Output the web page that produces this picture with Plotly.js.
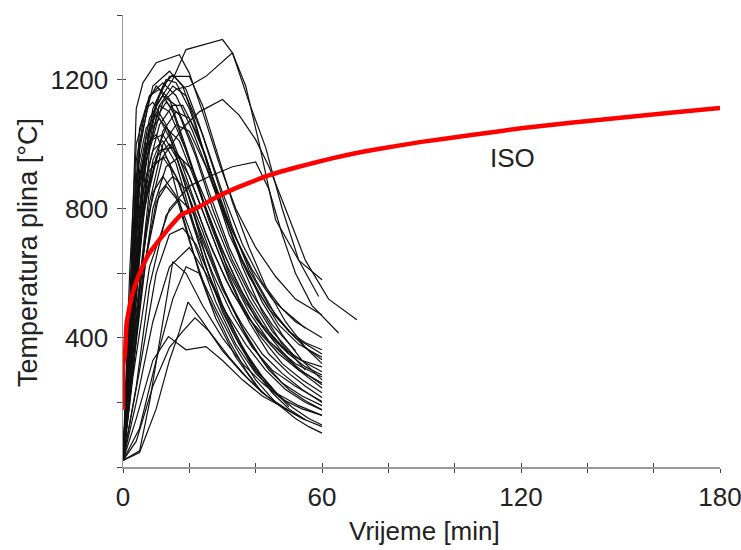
<!DOCTYPE html>
<html>
<head>
<meta charset="utf-8">
<script src="https://cdn.plot.ly/plotly-3.0.1.min.js"></script>
<style>html,body{margin:0;padding:0;background:#fff;}#chart{width:741px;height:550px;}</style>
</head>
<body>
<div id="chart"></div>
<script>
// ---- Data (time in min, temperature in °C) ----
// Natural fire curves, each as [time, temperature] pairs
const lateHighCurves = [
  [[0,20],[3,420],[6,880],[10,1120],[15,1200],[19,1293],[30,1324],[33,1283],[37,1180],[41,1005],[46,766],[53,640],[60,580]],
  [[0,20],[4,560],[8,980],[12,1130],[16,1170],[20,1180],[25,1210],[33,1283],[38,1130],[43,990],[48,800],[53,640],[59,528]],
  [[0,20],[3,350],[7,750],[12,960],[18,1050],[23,1100],[30,1138],[35,1090],[40,1014],[44,931],[49,800],[55,640],[62,520],[70.5,456]],
  [[0,20],[3,280],[8,620],[14,800],[20,870],[26,900],[33,930],[40,945],[44,860],[48,720],[52,600],[57,500],[65,415]]
];
const highCurves = [
  [[0,20],[2,480],[4,1110],[6,1190],[10,1252],[17,1277],[20,1220],[24,1100],[29,940],[34,800],[40,680],[46,590],[52,520],[60,471]],
  [[0,20],[3,650],[5,1000],[9,1180],[14,1226],[18,1180],[22,1060],[27,880],[32,720],[38,590],[44,490],[50,420],[55,385],[60,363]],
  [[0,20],[2,320],[5,860],[9,1110],[13,1200],[16,1190],[20,1110],[25,960],[30,800],[35,660],[41,540],[47,440],[53,380],[60,340]],
  [[0,20],[4,720],[8,1060],[12,1180],[15,1215],[19,1170],[23,1060],[28,900],[33,740],[38,610],[44,500],[50,420],[55,370],[60,332]],
  [[0,20],[3,520],[6,920],[10,1130],[14,1210],[20,1210],[24,1120],[28,990],[33,820],[38,680],[43,560],[49,450],[55,370],[60,320]],
  [[0,20],[2,400],[5,980],[8,1150],[12,1190],[16,1150],[21,1040],[27,880],[33,730],[39,610],[45,520],[52,450],[60,400]],
  [[0,20],[4,600],[7,950],[11,1120],[15,1180],[19,1150],[24,1030],[30,850],[36,690],[42,570],[48,490],[55,430]],
  [[0,20],[3,700],[5,1050],[8,1150],[11,1170],[15,1100],[20,950],[26,760],[32,600],[38,480],[44,390],[50,330],[55,290],[60,255]],
  [[0,20],[3,450],[7,900],[11,1060],[15,1120],[18,1120],[22,1040],[27,900],[33,730],[40,580],[46,470],[52,400],[60,350]],
  [[0,20],[2,380],[5,920],[8,1080],[12,1150],[16,1120],[21,1000],[26,850],[32,680],[38,550],[45,440],[52,360]]
];
const midCurves = [
  [[0,20],[2,350],[4,800],[7,1020],[11,1120],[14,1100],[19,980],[24,830],[30,670],[36,540],[42,440],[48,370],[54,330],[60,310]],
  [[0,20],[3,500],[6,900],[10,1080],[13,1130],[17,1090],[22,960],[27,800],[33,640],[39,520],[45,420],[52,340],[60,295]],
  [[0,20],[2,450],[4,900],[7,1050],[10,1090],[14,1040],[19,900],[25,720],[31,580],[37,470],[44,390],[52,320],[60,279]],
  [[0,20],[4,450],[8,820],[12,1000],[16,1060],[20,1040],[25,930],[30,790],[36,640],[42,510],[48,410],[54,330],[60,270]],
  [[0,20],[3,600],[5,900],[8,1010],[12,1030],[16,960],[21,830],[27,670],[33,540],[40,430],[47,350],[53,300],[60,260]],
  [[0,20],[2,250],[5,700],[9,950],[13,1050],[17,1010],[22,880],[28,720],[34,580],[40,460],[47,370],[53,300],[60,245]],
  [[0,20],[3,380],[6,780],[10,960],[14,1000],[18,950],[23,820],[29,660],[35,520],[41,410],[48,320],[54,270],[60,230]],
  [[0,20],[4,550],[7,850],[11,980],[15,990],[20,900],[26,740],[32,580],[38,450],[44,350],[50,290],[55,250],[60,215]],
  [[0,20],[2,300],[5,750],[8,920],[12,960],[16,900],[21,760],[27,600],[33,470],[39,370],[45,300],[52,250],[60,203]],
  [[0,20],[3,500],[6,850],[9,980],[12,1010],[16,940],[20,800],[25,620],[30,480],[35,380],[40,300],[45,245]],
  [[0,20],[2,400],[5,880],[8,1040],[11,1080],[15,1000],[20,830],[25,650],[30,500],[36,370],[42,280],[47,220],[50,186]],
  [[0,20],[3,420],[6,800],[9,940],[13,960],[17,880],[22,720],[27,560],[33,420],[39,310],[45,230],[50,180],[55,146]],
  [[0,20],[4,480],[8,860],[12,1040],[16,1100],[20,1080],[25,960],[30,800],[36,620],[42,480],[48,380],[55,300]],
  [[0,20],[2,500],[4,950],[7,1120],[10,1180],[14,1140],[19,990],[25,800],[31,630],[37,510],[43,420],[50,350]],
  [[0,20],[2,600],[4,1000],[7,1110],[9,1130],[13,1060],[18,900],[24,700],[30,550],[36,440],[42,350],[48,290],[54,240],[60,200]],
  [[0,20],[5,500],[9,800],[13,930],[17,960],[21,920],[26,800],[32,650],[38,520],[44,420],[50,350],[55,310],[60,285]]
];
const lowerCurves = [
  [[0,20],[3,300],[7,650],[11,850],[15,900],[19,860],[24,730],[30,560],[36,430],[42,330],[48,260],[54,220],[60,190]],
  [[0,20],[4,250],[8,560],[13,780],[17,830],[21,790],[26,660],[32,510],[38,390],[44,300],[50,240],[55,205],[60,177]],
  [[0,20],[2,200],[6,600],[10,820],[13,870],[17,820],[22,680],[28,510],[34,380],[40,290],[46,230],[53,190],[60,160]],
  [[0,20],[5,300],[10,600],[14,720],[18,740],[22,690],[27,570],[33,430],[39,320],[45,240],[51,185],[56,150],[60,130]],
  [[0,20],[5,120],[10,330],[15,520],[19,620],[23,600],[28,490],[34,370],[40,270],[46,200],[52,150],[56,125],[60,105]],
  [[0,20],[2,450],[4,850],[7,1000],[10,1030],[14,940],[18,780],[23,600],[28,460],[34,340],[40,254]],
  [[0,20],[3,300],[6,650],[9,850],[12,900],[16,840],[20,700],[26,520],[32,390],[37,300],[42,230]]
];
const lowPeakCurves = [
  [[0,20],[5,50],[8,200],[12,450],[15,636],[19,600],[24,500],[30,400],[36,320],[42,260],[48,210],[54,180],[60,160]],
  [[0,20],[5,45],[10,180],[14,330],[17,420],[19.6,511],[24,450],[30,360],[36,290],[42,230],[48,185],[54,150],[60,125]],
  [[0,20],[4,80],[9,250],[14,370],[18,420],[21.7,462],[26,420],[32,340],[38,270],[44,215],[50,175],[55,146]],
  [[0,20],[4,150],[9,330],[13.7,404],[19,363],[25,373],[30,330],[36,270],[42,220],[48,185],[50,175]],
  [[0,20],[4,200],[9,450],[14,620],[20,680],[25,600],[31,480],[37,380],[43,300],[49,240],[55,200],[60,177]]
];
// ISO standard fire curve
const isoTime = [0,0,0.6,1.1,2.6,4.6,7.6,10.6,13.7,17.7,20,23,28,33,38,43,48,53,58,63,70,77,90,105,120,135,150,165,180];
const isoTemp = [177,311,353,446,528,590,657,699,738,783,792,806,835,859,880,900,916,930,943,956,972,985,1007,1028,1049,1066,1082,1097,1112];
// Axis ticks
const xTickVals = [0,20,40,60,80,100,120,140,160,180];
const xTickText = ['0','','','60','','','120','','','180'];
const yTickVals = [0,200,400,600,800,1000,1200,1400];
const yTickText = ['','','400','','800','','1200',''];
const isoLabel = {text:'ISO', t:117.5, T:958};
const xTitle = 'Vrijeme [min]';
const yTitle = 'Temperatura plina [°C]';

// ---- Build traces ----
const allCurves = [].concat(lateHighCurves, highCurves, midCurves, lowerCurves, lowPeakCurves);
const traces = allCurves.map(c => ({
  type:'scatter', mode:'lines',
  x: c.map(p => p[0]), y: c.map(p => p[1]),
  line:{color:'#111', width:1.2}, hoverinfo:'skip', showlegend:false
}));
traces.push({
  type:'scatter', mode:'lines', x: isoTime, y: isoTemp,
  line:{color:'#ff0000', width:4.5, shape:'spline', smoothing:0.4}, showlegend:false
});

const fam = '"Liberation Sans", Arial, sans-serif';
const tickFont = {family:fam, size:26, color:'#222'};
const titleFont = {family:fam, size:26, color:'#222'};
const layout = {
  width:741, height:550,
  margin:{l:123, r:21, t:15, b:83},
  paper_bgcolor:'#fff', plot_bgcolor:'#fff',
  font: tickFont,
  showlegend:false,
  xaxis:{
    range:[0,180], tickvals:xTickVals, ticktext:xTickText,
    ticks:'outside', ticklen:4, tickcolor:'#444', tickwidth:1,
    showline:true, linecolor:'#999', linewidth:1.5,
    showgrid:false, zeroline:false, ticklabelstandoff:2,
    ticklabeloverflow:'allow', tickfont:tickFont
  },
  xaxis2:{
    overlaying:'x', anchor:'y', side:'bottom', range:[0,180], tickvals:xTickVals,
    ticks:'inside', ticklen:4, tickcolor:'#444', tickwidth:1, showticklabels:false,
    showline:false, showgrid:false, zeroline:false
  },
  yaxis:{
    range:[0,1400], tickvals:yTickVals, ticktext:yTickText,
    ticks:'outside', ticklen:5, tickcolor:'#444', tickwidth:1,
    showline:true, linecolor:'#999', linewidth:1.5,
    showgrid:false, zeroline:false, ticklabelstandoff:3,
    ticklabeloverflow:'allow', tickfont:tickFont
  },
  yaxis2:{
    overlaying:'y', anchor:'x', side:'left', range:[0,1400], tickvals:yTickVals,
    ticks:'inside', ticklen:3, tickcolor:'#444', tickwidth:1, showticklabels:false,
    showline:false, showgrid:false, zeroline:false
  },
  annotations:[
    {x:isoLabel.t, y:isoLabel.T, xref:'x', yref:'y', text:isoLabel.text,
     showarrow:false, font:{family:fam, size:26, color:'#222'}},
    {x:0.505, y:-0.142, xref:'paper', yref:'paper', text:xTitle, showarrow:false,
     xanchor:'center', yanchor:'middle', font:titleFont},
    {x:-0.158, y:0.475, xref:'paper', yref:'paper', text:yTitle, showarrow:false, textangle:-90,
     xanchor:'center', yanchor:'middle', font:{family:fam, size:27, color:'#222'}}
  ]
};
// invisible trace so the overlaid tick axes are drawn
traces.unshift({type:'scatter', mode:'none', x:[0], y:[0], xaxis:'x2', yaxis:'y2', hoverinfo:'skip', showlegend:false});
Plotly.newPlot('chart', traces, layout, {staticPlot:true});
</script>
</body>
</html>
